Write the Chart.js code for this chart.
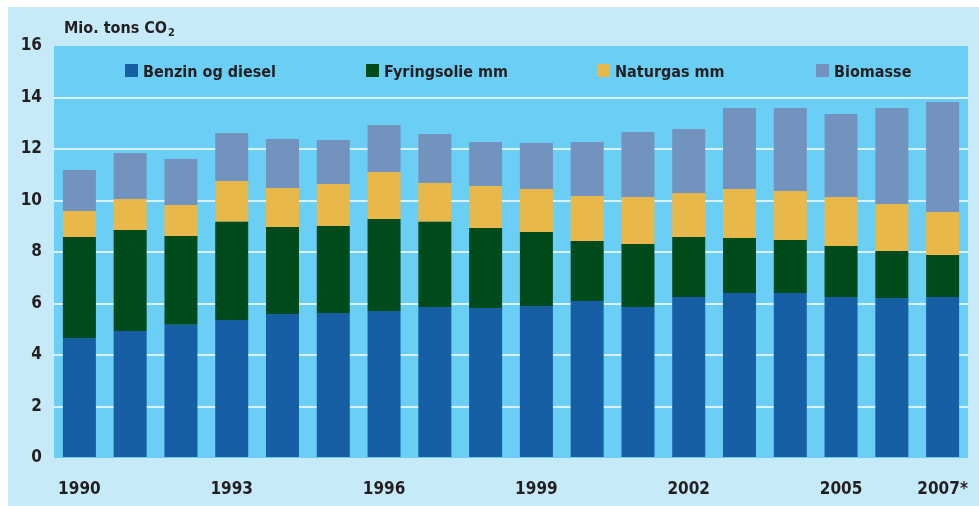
<!DOCTYPE html>
<html>
<head>
<meta charset="utf-8">
<script src="https://cdn.jsdelivr.net/npm/chart.js@4/dist/chart.umd.min.js"></script>
<style>
    body { margin: 0; background: #ffffff; }
    #panel { position: absolute; left: 8px; top: 7px; width: 971px; height: 499px; background: #c7eaf8; }
</style>
</head>
<body>
<div id="panel"><canvas id="co2Chart" width="971" height="499"></canvas></div>
<script>
const years = ['1990', '1991', '1992', '1993', '1994', '1995', '1996', '1997', '1998',
    '1999', '2000', '2001', '2002', '2003', '2004', '2005', '2006', '2007'];
const tickLabels = ['1990', '', '', '1993', '', '', '1996', '', '',
    '1999', '', '', '2002', '', '', '2005', '', '2007*'];

const benzin = [4.66, 4.93, 5.17, 5.36, 5.59, 5.63, 5.71, 5.86, 5.83, 5.90, 6.10, 5.86, 6.25, 6.41, 6.41, 6.25, 6.21, 6.25];
const fyringsolie = [3.92, 3.92, 3.45, 3.81, 3.38, 3.38, 3.57, 3.31, 3.10, 2.88, 2.33, 2.45, 2.33, 2.13, 2.06, 1.98, 1.83, 1.63];
const naturgas = [1.01, 1.21, 1.21, 1.59, 1.52, 1.63, 1.83, 1.51, 1.63, 1.67, 1.74, 1.83, 1.71, 1.91, 1.90, 1.91, 1.82, 1.67];
const biomasse = [1.59, 1.78, 1.78, 1.86, 1.90, 1.71, 1.82, 1.90, 1.71, 1.78, 2.10, 2.52, 2.49, 3.14, 3.22, 3.22, 3.73, 4.28];

const yTicks = [0, 2, 4, 6, 8, 10, 12, 14, 16];

const textColor = '#231f20';
const fontFamily = "'Liberation Sans Narrow', 'DejaVu Sans Condensed', sans-serif";

// where each legend entry starts, measured from the left of the plot
const legendOffsets = [71, 312, 543, 762];

// plot background, unit label and the legend inside the plot
const decorations = {
    id: 'decorations',
    beforeDraw(chart) {
        const { ctx, chartArea } = chart;
        ctx.save();
        ctx.fillStyle = '#6acef5';
        ctx.fillRect(chartArea.left, chartArea.top, chartArea.right - chartArea.left, chartArea.bottom - chartArea.top);
        ctx.restore();
    },
    afterDraw(chart) {
        const { ctx, chartArea } = chart;
        ctx.save();
        ctx.fillStyle = textColor;
        ctx.textBaseline = 'alphabetic';
        ctx.textAlign = 'left';

        // unit label
        ctx.font = 'bold 16px ' + fontFamily;
        const unit = 'Mio. tons CO';
        ctx.fillText(unit, 56, 26);
        const w = ctx.measureText(unit).width;
        ctx.font = 'bold 11px ' + fontFamily;
        ctx.fillText('2', 56 + w + 1, 29);

        // legend
        ctx.font = 'bold 16px ' + fontFamily;
        const baseline = 70;
        chart.data.datasets.forEach((ds, i) => {
            const x = chartArea.left + legendOffsets[i];
            ctx.fillStyle = ds.backgroundColor;
            ctx.fillRect(x, baseline - 13, 13, 13);
            ctx.fillStyle = textColor;
            ctx.fillText(ds.label, x + 18, baseline);
        });
        ctx.restore();
    }
};

const data = {
    labels: years,
    datasets: [
        { label: 'Benzin og diesel', data: benzin, backgroundColor: '#165fa5' },
        { label: 'Fyringsolie mm', data: fyringsolie, backgroundColor: '#004b1c' },
        { label: 'Naturgas mm', data: naturgas, backgroundColor: '#e8b84a' },
        { label: 'Biomasse', data: biomasse, backgroundColor: '#7393bf' }
    ]
};

const config = {
    type: 'bar',
    data: data,
    options: {
        responsive: false,
        animation: false,
        barPercentage: 0.65,
        categoryPercentage: 1.0,
        layout: {
            padding: { top: 39, right: 11, left: 0, bottom: 0 }
        },
        plugins: {
            legend: { display: false },
            title: { display: false },
            tooltip: { enabled: false }
        },
        scales: {
            x: {
                stacked: true,
                grid: { display: false },
                border: { display: false },
                afterFit: (scale) => {
                    scale.height = 48;
                    scale.paddingLeft = 0;
                    scale.paddingRight = 0;
                },
                ticks: {
                    autoSkip: false,
                    maxRotation: 0,
                    padding: 13,
                    color: textColor,
                    font: { family: fontFamily, size: 17, weight: 'bold' },
                    callback: (value, index) => tickLabels[index]
                }
            },
            y: {
                stacked: true,
                min: yTicks[0],
                max: yTicks[yTicks.length - 1],
                afterFit: (scale) => { scale.width = 46; },
                afterBuildTicks: (scale) => { scale.ticks = yTicks.map(v => ({ value: v })); },
                border: { display: false },
                grid: {
                    drawTicks: false,
                    lineWidth: 2,
                    color: (ctx) => (ctx.tick && (ctx.tick.value === 0 || ctx.tick.value === 16)) ? 'rgba(0,0,0,0)' : '#d8f2fc'
                },
                ticks: {
                    padding: 12,
                    color: textColor,
                    font: { family: fontFamily, size: 17, weight: 'bold' }
                }
            }
        }
    },
    plugins: [decorations]
};

new Chart(
    document.getElementById('co2Chart'),
    config
);
</script>
</body>
</html>
